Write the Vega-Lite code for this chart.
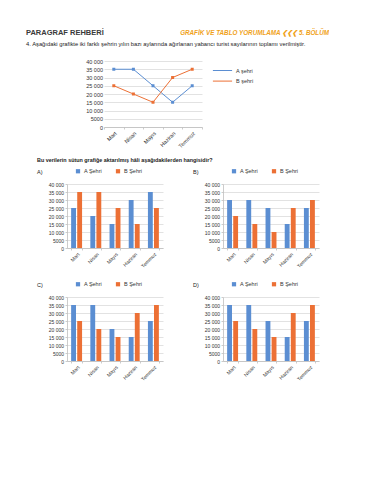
{
  "$schema": "https://vega.github.io/schema/vega-lite/v6.json",
  "background": "white",
  "padding": {"left": 26, "top": 28, "right": 0, "bottom": 0},
  "title": {"text": "GRAFİK VE TABLO YORUMLAMA ❮❮❮ 5. BÖLÜM", "anchor": "end", "dx": 10, "dy": 12, "fontSize": 6.3, "fontStyle": "italic", "fontWeight": "bold", "color": "#f0a21a"},
  "resolve": {"scale": {"color": "independent"}, "legend": {"color": "independent"}},
  "datasets": {
    "line": [
      {"ay": "Mart", "sehir": "A şehri", "deger": 35000},
      {"ay": "Nisan", "sehir": "A şehri", "deger": 35000},
      {"ay": "Mayıs", "sehir": "A şehri", "deger": 25000},
      {"ay": "Haziran", "sehir": "A şehri", "deger": 15000},
      {"ay": "Temmuz", "sehir": "A şehri", "deger": 25000},
      {"ay": "Mart", "sehir": "B şehri", "deger": 25000},
      {"ay": "Nisan", "sehir": "B şehri", "deger": 20000},
      {"ay": "Mayıs", "sehir": "B şehri", "deger": 15000},
      {"ay": "Haziran", "sehir": "B şehri", "deger": 30000},
      {"ay": "Temmuz", "sehir": "B şehri", "deger": 35000}
    ],
    "a": [
      {"ay": "Mart", "sehir": "A Şehri", "deger": 25000},
      {"ay": "Nisan", "sehir": "A Şehri", "deger": 20000},
      {"ay": "Mayıs", "sehir": "A Şehri", "deger": 15000},
      {"ay": "Haziran", "sehir": "A Şehri", "deger": 30000},
      {"ay": "Temmuz", "sehir": "A Şehri", "deger": 35000},
      {"ay": "Mart", "sehir": "B Şehri", "deger": 35000},
      {"ay": "Nisan", "sehir": "B Şehri", "deger": 35000},
      {"ay": "Mayıs", "sehir": "B Şehri", "deger": 25000},
      {"ay": "Haziran", "sehir": "B Şehri", "deger": 15000},
      {"ay": "Temmuz", "sehir": "B Şehri", "deger": 25000}
    ],
    "b": [
      {"ay": "Mart", "sehir": "A Şehri", "deger": 30000},
      {"ay": "Nisan", "sehir": "A Şehri", "deger": 30000},
      {"ay": "Mayıs", "sehir": "A Şehri", "deger": 25000},
      {"ay": "Haziran", "sehir": "A Şehri", "deger": 15000},
      {"ay": "Temmuz", "sehir": "A Şehri", "deger": 25000},
      {"ay": "Mart", "sehir": "B Şehri", "deger": 20000},
      {"ay": "Nisan", "sehir": "B Şehri", "deger": 15000},
      {"ay": "Mayıs", "sehir": "B Şehri", "deger": 10000},
      {"ay": "Haziran", "sehir": "B Şehri", "deger": 25000},
      {"ay": "Temmuz", "sehir": "B Şehri", "deger": 30000}
    ],
    "c": [
      {"ay": "Mart", "sehir": "A Şehri", "deger": 35000},
      {"ay": "Nisan", "sehir": "A Şehri", "deger": 35000},
      {"ay": "Mayıs", "sehir": "A Şehri", "deger": 20000},
      {"ay": "Haziran", "sehir": "A Şehri", "deger": 15000},
      {"ay": "Temmuz", "sehir": "A Şehri", "deger": 25000},
      {"ay": "Mart", "sehir": "B Şehri", "deger": 25000},
      {"ay": "Nisan", "sehir": "B Şehri", "deger": 20000},
      {"ay": "Mayıs", "sehir": "B Şehri", "deger": 15000},
      {"ay": "Haziran", "sehir": "B Şehri", "deger": 30000},
      {"ay": "Temmuz", "sehir": "B Şehri", "deger": 35000}
    ],
    "d": [
      {"ay": "Mart", "sehir": "A Şehri", "deger": 35000},
      {"ay": "Nisan", "sehir": "A Şehri", "deger": 35000},
      {"ay": "Mayıs", "sehir": "A Şehri", "deger": 25000},
      {"ay": "Haziran", "sehir": "A Şehri", "deger": 15000},
      {"ay": "Temmuz", "sehir": "A Şehri", "deger": 25000},
      {"ay": "Mart", "sehir": "B Şehri", "deger": 25000},
      {"ay": "Nisan", "sehir": "B Şehri", "deger": 20000},
      {"ay": "Mayıs", "sehir": "B Şehri", "deger": 15000},
      {"ay": "Haziran", "sehir": "B Şehri", "deger": 30000},
      {"ay": "Temmuz", "sehir": "B Şehri", "deger": 35000}
    ],
    "bos": [{"t": ""}]
  },
  "vconcat": [
    {
      "title": {"text": "PARAGRAF REHBERİ", "subtitle": "4.  Aşağıdaki grafikte iki farklı şehrin yılın bazı aylarında ağırlanan yabancı turist sayılarının toplamı verilmiştir.", "anchor": "start", "dx": -41, "fontSize": 7.5, "fontWeight": "bold", "color": "#3a3a3a", "subtitleFontSize": 5.8, "subtitleColor": "#222", "subtitlePadding": 5, "offset": 12},
      "spacing": 0,
      "hconcat": [
        {
          "data": {"name": "bos"},
          "width": 15,
          "height": 66,
          "mark": {"type": "text"},
          "encoding": {"text": {"field": "t", "type": "nominal"}}
        },
        {
          "data": {"name": "line"},
          "width": 98,
          "height": 66,
          "mark": {"type": "line", "strokeWidth": 1, "point": {"filled": true, "size": 9, "shape": "square"}},
          "encoding": {
            "x": {"field": "ay", "type": "nominal", "sort": ["Mart", "Nisan", "Mayıs", "Haziran", "Temmuz"], "scale": {"type": "band", "paddingInner": 0, "paddingOuter": 0}, "axis": {"title": null, "labelAngle": -45, "tickBand": "extent", "labelFontSize": 5.5}},
            "y": {"field": "deger", "type": "quantitative", "scale": {"domain": [0, 40000]}, "axis": {"title": null, "values": [0, 5000, 10000, 15000, 20000, 25000, 30000, 35000, 40000], "domain": false, "ticks": false, "minExtent": 22, "labelFontSize": 5.5, "labelExpr": "datum.value >= 10000 ? replace(format(datum.value, ','), ',', ' ') : format(datum.value, 'd')"}},
            "color": {"field": "sehir", "type": "nominal", "scale": {"domain": ["A şehri", "B şehri"], "range": ["#5b8ed2", "#ec7035"]}, "legend": {"title": null, "orient": "right", "symbolType": "M-1.6,0H1.6", "symbolSize": 144, "symbolStrokeWidth": 1, "labelFontSize": 5.5, "labelOffset": 7, "rowPadding": 0.6, "offset": 10, "padding": 3}}
          }
        }
      ]
    },
    {
      "title": {"text": "Bu verilerin sütun grafiğe aktarılmış hâli aşağıdakilerden hangisidir?", "anchor": "start", "dx": 11, "fontSize": 5.4, "fontWeight": "bold", "color": "#222", "offset": 5},
      "resolve": {"scale": {"color": "independent"}, "legend": {"color": "independent"}},
      "hconcat": [
        {
          "data": {"name": "a"},
          "width": 96, "height": 64,
          "title": {"text": "A)", "anchor": "start", "dx": 11, "dy": 11, "fontSize": 5.5, "fontWeight": "normal", "color": "#222"},
          "mark": {"type": "bar"},
          "encoding": {
            "x": {"field": "ay", "type": "nominal", "sort": ["Mart", "Nisan", "Mayıs", "Haziran", "Temmuz"], "scale": {"paddingInner": 0.43, "paddingOuter": 0.215}, "axis": {"title": null, "labelAngle": -45, "tickBand": "extent", "minExtent": 26}},
            "xOffset": {"field": "sehir", "scale": {"paddingInner": 0.2}},
            "y": {"field": "deger", "type": "quantitative", "scale": {"domain": [0, 40000]}, "axis": {"title": null, "values": [0, 5000, 10000, 15000, 20000, 25000, 30000, 35000, 40000], "minExtent": 41, "labelExpr": "datum.value >= 10000 ? replace(format(datum.value, ','), ',', ' ') : format(datum.value, 'd')"}},
            "color": {"field": "sehir", "type": "nominal", "scale": {"domain": ["A Şehri", "B Şehri"], "range": ["#5b8ed2", "#ec7035"]}, "legend": {"title": null, "orient": "top", "direction": "horizontal", "symbolType": "square", "symbolSize": 18, "symbolOffset": 8, "columnPadding": 4, "offset": 9, "padding": 0}}
          }
        },
        {
          "data": {"name": "b"},
          "width": 96, "height": 64,
          "title": {"text": "B)", "anchor": "start", "dx": 11, "dy": 11, "fontSize": 5.5, "fontWeight": "normal", "color": "#222"},
          "mark": {"type": "bar"},
          "encoding": {
            "x": {"field": "ay", "type": "nominal", "sort": ["Mart", "Nisan", "Mayıs", "Haziran", "Temmuz"], "scale": {"paddingInner": 0.43, "paddingOuter": 0.215}, "axis": {"title": null, "labelAngle": -45, "tickBand": "extent", "minExtent": 26}},
            "xOffset": {"field": "sehir", "scale": {"paddingInner": 0.2}},
            "y": {"field": "deger", "type": "quantitative", "scale": {"domain": [0, 40000]}, "axis": {"title": null, "values": [0, 5000, 10000, 15000, 20000, 25000, 30000, 35000, 40000], "minExtent": 41, "labelExpr": "datum.value >= 10000 ? replace(format(datum.value, ','), ',', ' ') : format(datum.value, 'd')"}},
            "color": {"field": "sehir", "type": "nominal", "scale": {"domain": ["A Şehri", "B Şehri"], "range": ["#5b8ed2", "#ec7035"]}, "legend": {"title": null, "orient": "top", "direction": "horizontal", "symbolType": "square", "symbolSize": 18, "symbolOffset": 8, "columnPadding": 4, "offset": 9, "padding": 0}}
          }
        }
      ]
    },
    {
      "resolve": {"scale": {"color": "independent"}, "legend": {"color": "independent"}},
      "hconcat": [
        {
          "data": {"name": "c"},
          "width": 96, "height": 64,
          "title": {"text": "C)", "anchor": "start", "dx": 11, "dy": 11, "fontSize": 5.5, "fontWeight": "normal", "color": "#222"},
          "mark": {"type": "bar"},
          "encoding": {
            "x": {"field": "ay", "type": "nominal", "sort": ["Mart", "Nisan", "Mayıs", "Haziran", "Temmuz"], "scale": {"paddingInner": 0.43, "paddingOuter": 0.215}, "axis": {"title": null, "labelAngle": -45, "tickBand": "extent"}},
            "xOffset": {"field": "sehir", "scale": {"paddingInner": 0.2}},
            "y": {"field": "deger", "type": "quantitative", "scale": {"domain": [0, 40000]}, "axis": {"title": null, "values": [0, 5000, 10000, 15000, 20000, 25000, 30000, 35000, 40000], "minExtent": 41, "labelExpr": "datum.value >= 10000 ? replace(format(datum.value, ','), ',', ' ') : format(datum.value, 'd')"}},
            "color": {"field": "sehir", "type": "nominal", "scale": {"domain": ["A Şehri", "B Şehri"], "range": ["#5b8ed2", "#ec7035"]}, "legend": {"title": null, "orient": "top", "direction": "horizontal", "symbolType": "square", "symbolSize": 18, "symbolOffset": 8, "columnPadding": 4, "offset": 9, "padding": 0}}
          }
        },
        {
          "data": {"name": "d"},
          "width": 96, "height": 64,
          "title": {"text": "D)", "anchor": "start", "dx": 11, "dy": 11, "fontSize": 5.5, "fontWeight": "normal", "color": "#222"},
          "mark": {"type": "bar"},
          "encoding": {
            "x": {"field": "ay", "type": "nominal", "sort": ["Mart", "Nisan", "Mayıs", "Haziran", "Temmuz"], "scale": {"paddingInner": 0.43, "paddingOuter": 0.215}, "axis": {"title": null, "labelAngle": -45, "tickBand": "extent"}},
            "xOffset": {"field": "sehir", "scale": {"paddingInner": 0.2}},
            "y": {"field": "deger", "type": "quantitative", "scale": {"domain": [0, 40000]}, "axis": {"title": null, "values": [0, 5000, 10000, 15000, 20000, 25000, 30000, 35000, 40000], "minExtent": 41, "labelExpr": "datum.value >= 10000 ? replace(format(datum.value, ','), ',', ' ') : format(datum.value, 'd')"}},
            "color": {"field": "sehir", "type": "nominal", "scale": {"domain": ["A Şehri", "B Şehri"], "range": ["#5b8ed2", "#ec7035"]}, "legend": {"title": null, "orient": "top", "direction": "horizontal", "symbolType": "square", "symbolSize": 18, "symbolOffset": 8, "columnPadding": 4, "offset": 9, "padding": 0}}
          }
        }
      ]
    }
  ],
  "spacing": 7,
  "config": {
    "font": "Liberation Sans",
    "view": {"stroke": null},
    "concat": {"spacing": 19},
    "axis": {"labelFontSize": 5, "labelColor": "#333", "domainColor": "#bfbfbf", "tickColor": "#bfbfbf", "gridColor": "#dadada", "tickSize": 2, "labelPadding": 1.5, "domainWidth": 0.8, "gridWidth": 0.8, "tickWidth": 0.8},
    "legend": {"labelFontSize": 5.5, "labelColor": "#333", "labelOffset": 3},
    "title": {"font": "Liberation Sans"}
  }
}
